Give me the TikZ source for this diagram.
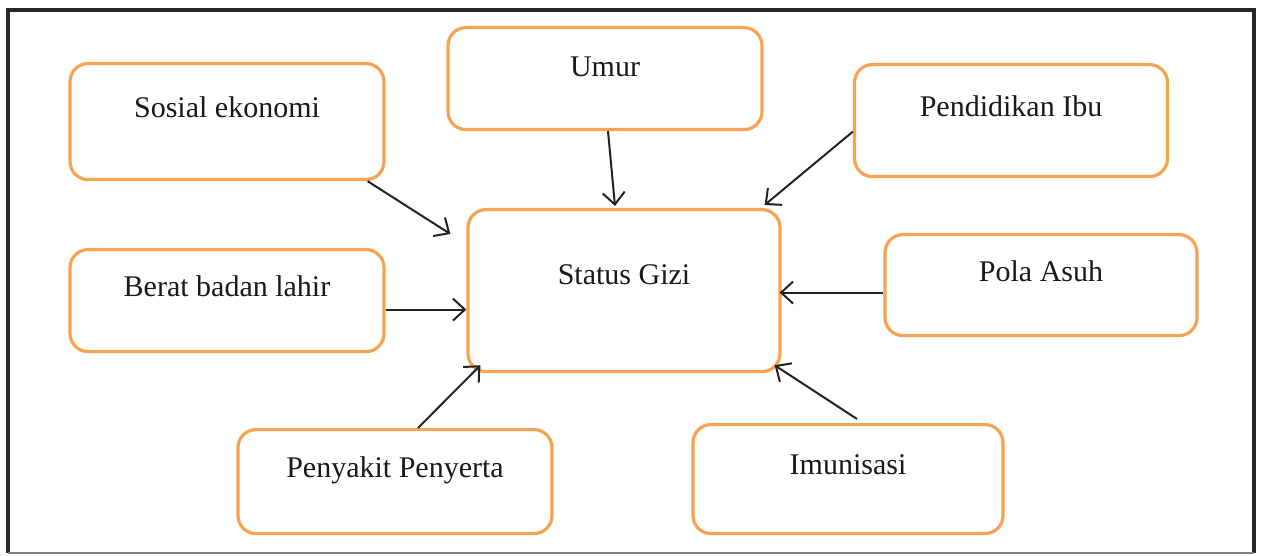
\documentclass[tikz,border=0pt]{standalone}
\usepackage{fontspec}
\setmainfont{Liberation Serif}
\usetikzlibrary{arrows.meta}
\definecolor{boxorange}{RGB}{247,163,84}
\definecolor{arrowgray}{RGB}{34,34,38}
\begin{document}
\begin{tikzpicture}[x=1pt,y=-1pt,
  fbox/.style={draw=boxorange, line width=3.2pt, rounded corners=18pt, fill=white,
    inner sep=0pt, anchor=north, align=center,
    font=\fontsize{30}{36}\selectfont, text=black!90},
  conn/.style={draw=arrowgray, line width=2pt,
    -{Straight Barb[length=12pt,width=22pt,line width=2pt]}}
]
\useasboundingbox (0,0) rectangle (1261,556);
% outer frame
\draw[line width=3.5pt, black!85] (8,553) -- (8,10) -- (1254,10) -- (1254,553);
\draw[line width=1.5pt, black!50] (8,553) -- (1254,553);

\node[fbox, minimum width=314pt, text height=54pt, text depth=62pt] (sosial) at (227,62) {Sosial ekonomi};
\node[fbox, minimum width=314pt, text height=49pt, text depth=53pt] (umur) at (605,26) {Umur};
\node[fbox, minimum width=313pt, text height=52pt, text depth=60pt] (pend) at (1011,63) {Pendidikan Ibu};
\node[fbox, minimum width=312pt, text height=75pt, text depth=87pt] (status) at (624,208) {Status Gizi};
\node[fbox, minimum width=314pt, text height=47pt, text depth=55pt] (berat) at (227,248) {Berat badan lahir};
\node[fbox, minimum width=312pt, text height=47pt, text depth=54pt] (pola) at (1041,233) {Pola Asuh};
\node[fbox, minimum width=314pt, text height=48pt, text depth=56pt] (penyakit) at (395,428) {Penyakit Penyerta};
\node[fbox, minimum width=310pt, text height=50pt, text depth=59pt] (imun) at (848,423) {Imunisasi};

\draw[conn] ([xshift=-18pt]sosial.south east) -- ([xshift=-16pt,yshift=-26pt]status.north west);
\draw[conn] ([xshift=3pt]umur.south) -- ([xshift=-9pt,yshift=2pt]status.north);
\draw[conn] ([yshift=-11pt]pend.west) -- ([xshift=-17pt,yshift=3pt]status.north east);
\draw[conn] ([yshift=-9pt]berat.east) -- ([yshift=-19pt]status.west);
\draw[conn] ([yshift=-7.5pt]pola.west) -- ([xshift=-2pt,yshift=-2pt]status.east);
\draw[conn] ([xshift=23pt]penyakit.north) -- ([xshift=14pt,yshift=8pt]status.south west);
\draw[conn] ([xshift=9pt,yshift=4pt]imun.north) -- ([xshift=-7pt,yshift=8pt]status.south east);
\end{tikzpicture}
\end{document}
